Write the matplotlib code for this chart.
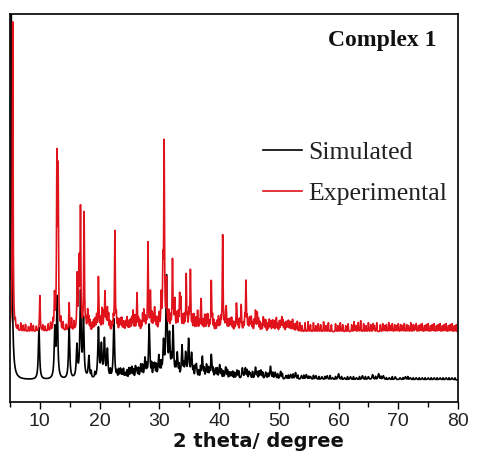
import numpy as np
import matplotlib
matplotlib.use("Agg")
import matplotlib.pyplot as plt

# ---------------- data ----------------
# Simulated pattern: peak positions (2theta, deg) and heights (a.u.)
sim_pos = [5.2, 9.85, 12.5, 12.9, 14.9, 16.2, 16.8, 17.3, 18.2, 19.8, 20.3, 20.8,
           21.3, 22.4, 23.5, 24.3, 25.4, 26.2, 26.9, 27.6, 28.3, 29.2, 29.9, 30.7,
           31.2, 31.7, 32.3, 33.0, 33.8, 34.4, 34.9, 35.4, 36.2, 37.2, 37.9, 38.7,
           39.4, 40.1, 41.1, 42.0, 43.0, 43.9, 44.4, 45.2, 46.1, 47.0, 47.8, 48.6,
           49.4, 50.3, 51.2, 52.0, 52.8, 53.8, 54.6, 55.3, 56.2, 57.2, 58.1, 59.0,
           60.0, 61.0, 62.0, 63.0, 64.0, 65.0, 65.7, 66.7, 67.5, 68.5, 69.5, 70.3,
           71.2, 72.0, 73.0, 74.0, 75.0, 76.0, 77.0, 78.0, 79.0]
sim_h = [380, 52, 48, 80, 53, 32, 85, 58, 22, 50, 32, 38,
         28, 60, 10, 6, 12, 10, 14, 20, 54, 14, 22, 34,
         100, 40, 50, 24, 32, 24, 38, 24, 14, 22, 14, 24,
         10, 14, 12, 7, 9, 11, 11, 6, 12, 9, 7, 13,
         7, 8, 4, 5, 7, 4, 5, 3, 4, 3, 4, 2,
         6, 2, 3, 2, 4, 3, 5, 6, 4, 2, 3, 2,
         3, 2, 2, 2, 2, 2, 2, 2, 2]
# Simulated pattern: weak reflections
sim_minor_pos = [18.6, 19.2, 21.8, 22.9, 23.2, 23.8, 24.0, 24.6, 24.9, 25.1, 25.7,
                 26.0, 26.5, 27.2, 27.9, 28.7, 29.0, 29.5, 30.2, 30.4, 32.0, 32.7,
                 33.3, 34.1, 35.7, 36.0, 36.6, 36.9, 37.5, 38.2, 38.4, 39.0, 39.7,
                 40.4, 40.7, 41.4, 41.7, 42.3, 42.6, 43.3, 44.7, 45.0, 45.6, 46.4,
                 46.7, 47.3, 48.2, 49.0, 49.8, 50.6, 51.6, 52.4, 53.2, 54.2, 55.0,
                 55.8, 56.7, 57.7, 58.6, 59.5, 60.5, 61.5, 62.5, 63.5, 64.5, 66.2,
                 67.1, 68.0, 69.0, 70.8, 71.6, 72.5, 73.5, 74.5, 75.5, 76.5, 77.5,
                 78.5, 79.5]
sim_minor_h = [6, 5, 7, 6, 8, 7, 9, 8, 10, 9, 8,
               10, 9, 11, 10, 12, 10, 11, 12, 10, 12, 9,
               10, 9, 8, 9, 7, 10, 8, 9, 7, 8, 9,
               8, 7, 8, 6, 7, 6, 7, 8, 6, 7, 6,
               7, 6, 5, 6, 5, 5, 4, 5, 4, 4, 3,
               4, 3, 3, 4, 3, 3, 3, 3, 3, 3, 3,
               3, 2, 3, 2, 3, 2, 2, 2, 2, 2, 2,
               2, 2]

# Experimental pattern: main reflections
exp_pos = [5.45, 10.0, 12.45, 12.85, 13.05, 14.9, 16.25, 16.55, 16.8, 17.4, 18.0,
           19.26, 19.8, 20.4, 20.9, 21.3, 22.56, 23.5, 24.4, 25.6, 26.26, 27.4,
           28.1, 28.5, 29.2, 30.3, 30.6, 30.8, 31.2, 31.6, 32.2, 32.6, 33.4, 33.6,
           34.5, 35.2, 35.8, 36.4, 37.0, 37.6, 38.1, 38.7, 39.7, 40.6, 41.2, 41.9,
           42.9, 43.7, 44.5, 45.3, 46.1, 46.4, 47.4, 48.6, 49.5, 50.5, 51.4, 52.3]
exp_h = [310, 36, 34, 166, 152, 28, 54, 66, 120, 118, 20,
         12, 54, 22, 38, 22, 100, 12, 10, 20, 38, 20,
         88, 38, 22, 34, 58, 184, 48, 18, 70, 30, 34, 30,
         56, 60, 16, 20, 30, 16, 16, 50, 10, 96, 22, 12,
         26, 26, 50, 12, 20, 18, 14, 10, 8, 14, 8, 12]
# Experimental pattern: small fluctuations of the background
exp_minor_pos = [5.9, 6.3, 6.8, 7.2, 7.6, 8.1, 8.5, 8.9, 9.4, 10.5, 10.9, 11.4, 11.8,
                 12.2, 13.5, 13.9, 14.4, 15.3, 15.7, 18.4, 18.8, 21.7, 22.1, 23.0,
                 23.9, 24.8, 25.2, 26.7, 27.0, 27.8, 29.6, 29.9, 33.0, 34.0, 34.9,
                 36.1, 36.7, 37.3, 38.4, 39.1, 39.4, 40.1, 40.9, 41.5, 42.3, 42.6,
                 43.2, 44.1, 44.9, 45.6, 45.9, 46.8, 47.1, 47.8, 48.2, 49.0, 49.8,
                 50.1, 50.9, 51.8, 52.6, 53.1, 53.5, 53.9, 54.4, 54.9, 55.3, 55.8,
                 56.2, 56.6, 57.0, 57.5, 57.9, 58.3, 58.8, 59.5, 59.9, 60.3, 60.7,
                 61.2, 61.6, 62.2, 62.6, 62.9, 63.3, 63.7, 64.2, 64.6, 65.0, 65.4,
                 65.8, 66.0, 66.4, 67.0, 67.4, 67.7, 68.0, 68.4, 68.7, 69.0, 69.4,
                 69.7, 70.0, 70.4, 70.7, 71.0, 71.4, 71.7, 72.1, 72.5, 72.8, 73.0,
                 73.4, 73.7, 74.0, 74.4, 74.7, 75.0, 75.4, 75.7, 76.0, 76.4, 76.7,
                 77.0, 77.4, 77.7, 78.0, 78.4, 78.7, 79.0, 79.4, 79.7,
                 17.7, 18.2, 19.0, 19.5, 20.1, 20.7, 21.1, 21.5, 22.3, 22.8, 23.3,
                 23.7, 24.1, 24.6, 25.0, 25.4, 25.9, 26.5, 27.2, 27.6, 28.8, 29.0,
                 29.4, 30.0, 31.9, 32.4, 32.9, 33.2, 33.9, 34.2, 34.7, 35.0, 35.5,
                 36.9, 37.9, 38.9, 39.9, 40.3, 41.1, 41.7, 42.1, 43.0, 43.5, 44.3,
                 44.7, 45.1, 45.4, 46.6, 47.6, 48.4, 48.9, 49.2, 49.6, 50.3, 50.7,
                 51.2, 51.6, 52.0, 52.9]
exp_minor_h = [7, 5, 8, 6, 7, 5, 8, 6, 5, 6, 5, 7, 8,
               9, 10, 8, 6, 12, 9, 10, 8, 9, 7, 10,
               9, 8, 11, 10, 8, 9, 12, 10, 14, 12, 10,
               12, 9, 10, 8, 10, 7, 9, 8, 10, 9, 8,
               10, 7, 9, 8, 10, 9, 7, 11, 8, 9, 7,
               10, 8, 9, 7, 10, 9, 6, 9, 10, 7, 9,
               6, 8, 7, 10, 6, 9, 7, 8, 6, 9, 7,
               6, 8, 7, 10, 6, 9, 11, 8, 6, 9, 7,
               8, 6, 9, 7, 8, 6, 7, 9, 6, 8, 7,
               6, 8, 7, 6, 8, 7, 6, 9, 7, 6, 8,
               6, 7, 8, 6, 7, 8, 6, 7, 8, 6, 7,
               8, 6, 7, 8, 6, 7, 8, 6, 7, 8,
               12, 10, 14, 11, 16, 12, 15, 11, 13, 10, 12,
               9, 13, 10, 12, 14, 11, 15, 12, 16, 13, 11,
               14, 12, 16, 13, 15, 12, 14, 11, 15, 13, 12,
               14, 12, 13, 11, 12, 10, 12, 11, 10, 12, 11,
               12, 10, 11, 10, 11, 9, 10, 11, 9, 10, 9,
               10, 9, 8, 9]

sim_offset = 22
exp_offset = 70
xticks = [10, 20, 30, 40, 50, 60, 70, 80]
series_names = ["Simulated", "Experimental"]
title_text = "Complex 1"
xlabel_text = "2 theta/ degree"

# ---------------- build profiles ----------------
theta = np.linspace(5, 80, 8000)


def profile(pos, h, hw):
    out = np.zeros_like(theta)
    for p, a in zip(pos, h):
        out += a * hw ** 2 / ((theta - p) ** 2 + hw ** 2)
    return out


sim_y = (sim_offset + profile(sim_pos, sim_h, 0.12)
         + profile(sim_minor_pos, sim_minor_h, 0.05))
exp_y = (exp_offset + profile(exp_pos, exp_h, 0.07)
         + profile(exp_minor_pos, exp_minor_h, 0.045))

# ---------------- figure ----------------
fig = plt.figure(figsize=(4.83, 4.70), dpi=100)
ax = fig.add_axes([10 / 483, 1 - 402 / 470, 448 / 483, 388 / 470])

ax.plot(theta, sim_y, color="black", lw=1.2, label=series_names[0])
ax.plot(theta, exp_y, color="#e0121c", lw=1.2, label=series_names[1])

ax.set_xlim(5, 80)
ax.set_ylim(0, 388)
ax.set_yticks([])
ax.set_xticks(xticks)
ax.set_xticks(np.arange(5, 81, 10), minor=True)
ax.tick_params(axis="x", which="major", direction="out", length=5, width=1.0,
               pad=3, labelsize=14)
ax.tick_params(axis="x", which="minor", direction="out", length=3.5, width=1.0)
for lab in ax.get_xticklabels():
    lab.set_fontfamily("Liberation Sans")
    lab.set_color("#222222")
for s in ax.spines.values():
    s.set_linewidth(1.3)
    s.set_color("#111111")

ax.set_xlabel(xlabel_text, fontfamily="DejaVu Sans", fontweight="bold",
              fontsize=14, color="#111111")
ax.xaxis.set_label_coords((258 - 10) / 448, -0.078)

fig.text(437 / 483, 1 - 46 / 470, title_text, ha="right", va="baseline",
         fontfamily="Liberation Serif", fontweight="bold", fontsize=17,
         color="#111111")

leg = ax.legend(loc="center left", bbox_to_anchor=(263 / 483, 1 - 173 / 470),
                bbox_transform=fig.transFigure, frameon=False, borderpad=0,
                borderaxespad=0, handlelength=1.5, handletextpad=0.25,
                labelspacing=0.7, prop={"family": "Liberation Serif", "size": 18.5})
for t in leg.get_texts():
    t.set_color("#222222")

fig.savefig("out.png", dpi=100)
